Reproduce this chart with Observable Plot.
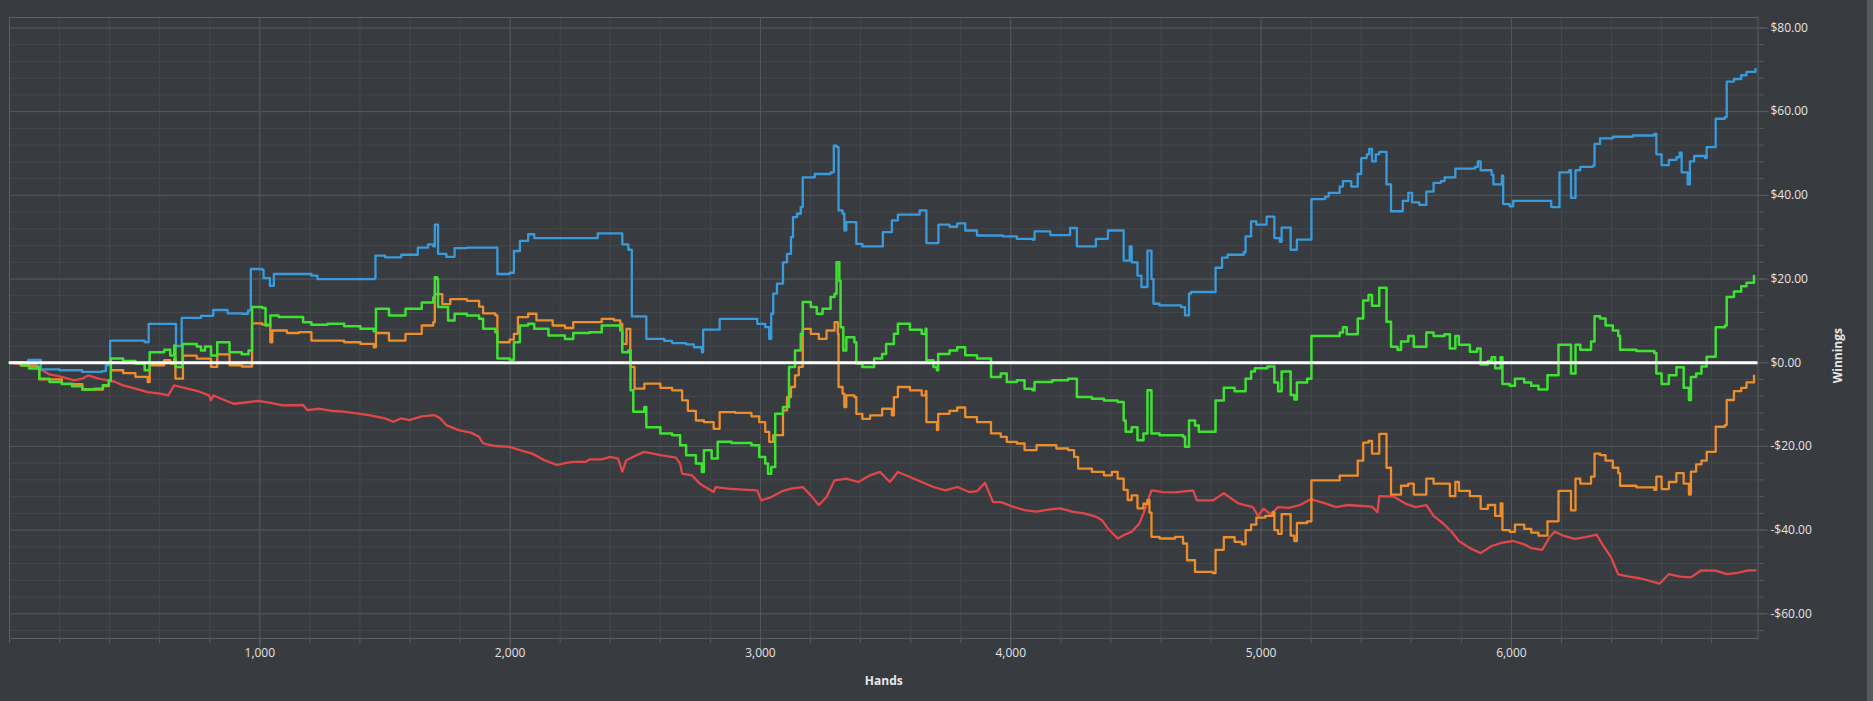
<!DOCTYPE html>
<html>
<head>
<meta charset="utf-8">
<script src="https://cdn.jsdelivr.net/npm/d3@7"></script>
<script src="https://cdn.jsdelivr.net/npm/@observablehq/plot@0.6"></script>
<style>
  html, body { margin: 0; padding: 0; background: #383b3f; overflow: hidden; }
  #chart { position: absolute; left: 0; top: 0; }
  #strip { position: absolute; right: 0; top: 0; width: 6px; height: 701px; background: #56595d; }
</style>
</head>
<body>
<div id="chart"></div>
<div id="strip"></div>
<script>
// Tick values
const xTicks = [1000, 2000, 3000, 4000, 5000, 6000];
const yTicks = [-60, -40, -20, 0, 20, 40, 60, 80];
const xMinor = d3.range(0, 7000, 200);
const yMinor = d3.range(-64, 84, 4);

// Series: [hands, winnings $]
const blue = [[0,0],[75,0.7],[125,-1.6],[200,-1.8],[290,-2.2],[370,-2.0],[385,-0.6],[402,5.3],[540,4.9],[556,9.3],[663,9.3],[665,4.0],[688,10.7],[765,11.2],[814,12.6],[840,12.6],[871,11.8],[928,11.7],[953,12.5],[964,22.4],[1010,22.2],[1015,20.2],[1040,18.4],[1056,21.2],[1206,20.8],[1230,20.0],[1459,20.2],[1462,25.6],[1500,25.2],[1565,25.8],[1631,27.5],[1672,28.3],[1693,27.8],[1699,33.0],[1710,33.0],[1712,26.0],[1745,25.3],[1778,27.4],[1827,27.5],[1949,21.2],[1998,21.5],[2015,26.7],[2039,29.1],[2072,30.7],[2096,29.8],[2350,30.9],[2448,28.3],[2472,27.0],
[2486,11.1],[2544,5.7],[2616,5.2],[2647,4.7],[2703,4.4],[2734,3.7],[2766,2.5],[2771,7.9],[2837,10.5],[2987,9.3],[3019,8.5],[3035,5.7],[3043,11.7],[3051,16.5],[3066,18.9],[3090,24],[3106,26],[3122,30],[3130,34.8],[3146,35.6],[3161,37.2],[3169,44.3],[3217,45.1],[3280,45.5],[3293,51.9],[3304,51.5],[3312,36.4],[3328,35.6],[3335,31.6],[3343,33.6],[3383,28.4],[3407,27.8],[3489,31.2],[3525,34],[3549,35.4],[3636,36.4],[3663,28.6],[3711,33],[3755,32.5],[3786,33.3],[3818,31.6],[3865,30.4],[3968,30.2],[4024,29.6],[4087,29.4],[4095,31.4],[4158,30.5],[4237,32.2],[4264,27.8],[4340,29.6],[4388,31.6],[4451,24.4],[4475,27.8],[4483,24],[4506,20.8],[4522,18.1],[4546,26.8],[4562,20],[4570,14.1],[4594,13.7],[4680,13.3],[4696,11.3],[4712,16.5],[4720,16.9],
[4818,22.7],[4844,25.1],[4866,25.8],[4931,26.4],[4938,30.2],[4960,33.8],[4981,33],[5022,34.9],[5053,29.8],[5075,28.9],[5082,32.3],[5118,27],[5143,29.4],[5201,39.1],[5256,39.7],[5270,40.6],[5314,42.1],[5327,43.4],[5360,42.1],[5386,45.1],[5400,48.9],[5422,49.8],[5432,51.1],[5443,48.1],[5458,49.8],[5472,50.4],[5501,42.6],[5519,36.2],[5566,38.7],[5588,40.6],[5603,38.3],[5632,37.7],[5660,40.9],[5689,43],[5718,43.4],[5733,44.3],[5776,46.4],[5855,46.8],[5866,48.1],[5877,46],[5921,44.9],[5928,42.6],[5962,44.7],[5967,37.9],[5993,37.4],[6007,38.7],[6159,37.2],[6192,45.5],[6231,46],[6238,39.4],[6256,46],[6275,46.8],[6325,47.1],[6332,52.3],[6354,53.6],[6405,54],[6485,54.3],[6571,54.7],[6579,49.8],[6600,47.2],[6629,48.5],[6659,49.1],[6672,50.2],[6680,45.5],[6704,42.6],[6713,48.1],[6730,49.4],[6773,48.9],[6780,51.5],[6816,58.3],[6853,58.7],[6860,67.2],[6889,67.8],[6918,68.7],[6939,69.5],[6975,70.2]];

const green = [[0,0],[46,-0.6],[78,-1.4],[111,-1],[119,-3.8],[160,-4.6],[209,-5],[250,-5.6],[291,-6.4],[340,-6.2],[373,-5.4],[397,-4.2],[405,1],[454,0.4],[503,-0.2],[540,-1.8],[560,2.5],[618,3.1],[642,1.7],[658,4.1],[663,-1],[691,4.5],[748,3.9],[765,2.9],[781,3.9],[805,1.7],[830,4.9],[879,2.5],[928,2],[955,2.9],[969,13.3],[1010,13.1],[1023,8.9],[1042,11.3],[1075,10.9],[1140,10.9],[1173,9.7],[1206,9.1],[1271,9.3],[1337,8.7],[1402,8.1],[1455,7.5],[1464,12.9],[1516,11.3],[1582,12.9],[1647,14.4],[1693,15.6],[1699,20.4],[1709,20],[1712,13.3],[1752,10.1],[1778,11.7],[1827,11.3],[1876,10.5],[1892,8.1],[1941,7.3],[1949,1],[1998,0.7],[2015,4.9],[2039,8.9],[2072,9.3],[2096,8.1],[2153,6.5],[2219,5.7],[2252,7.1],[2317,7.3],[2366,8.9],[2415,8.9],[2440,7.7],[2448,2.5],[2472,2.9],
[2481,-6.6],[2492,-11.7],[2536,-10.6],[2544,-15.4],[2600,-16.9],[2647,-17.3],[2679,-19.7],[2703,-22.1],[2742,-24.1],[2766,-26.1],[2774,-20.9],[2805,-22.9],[2829,-18.9],[2884,-19.2],[2964,-19.7],[2995,-22.5],[3019,-24.1],[3030,-26.5],[3043,-24.9],[3059,-12.2],[3090,-10.6],[3114,-1],[3138,2.9],[3161,6.9],[3169,14.5],[3201,13.3],[3225,11.7],[3248,12.9],[3280,15.7],[3296,16.5],[3304,24],[3315,19.6],[3320,8.5],[3331,2.9],[3343,6.1],[3375,4.9],[3383,-0.2],[3407,-1],[3454,1],[3486,2.1],[3502,4.5],[3533,6.9],[3549,9.3],[3597,7.9],[3644,6.9],[3660,8.1],[3663,0.6],[3691,-1],[3705,-1.8],[3710,2.1],[3755,2.9],[3786,3.7],[3818,1.8],[3865,1],[3921,-3.4],[3960,-2.6],[3984,-4.6],[4024,-4.2],[4055,-6.2],[4087,-6.6],[4095,-4.6],[4166,-4.2],[4229,-3.8],[4264,-8.2],[4324,-8.6],[4372,-9],[4427,-9.4],[4451,-13.8],[4459,-16.5],[4483,-15.4],[4506,-18.5],[4530,-16.9],[4546,-6.6],[4562,-16.9],[4594,-17.3],[4688,-17.7],[4696,-20.1],[4712,-13.8],[4736,-15],[4751,-16.5],
[4818,-9],[4851,-6],[4894,-6.8],[4938,-3.8],[4960,-2.1],[4975,-1.3],[5025,-0.9],[5053,-4.7],[5068,-6.8],[5082,-2.1],[5118,-7.7],[5133,-8.8],[5143,-4.7],[5184,-3.8],[5201,6.4],[5314,7.2],[5327,8.5],[5342,6.8],[5386,10.6],[5408,14.9],[5429,16.2],[5443,13.6],[5472,17.9],[5501,9.8],[5519,3.8],[5545,3.1],[5559,5.1],[5588,6.4],[5610,3.8],[5660,7.2],[5689,6.4],[5733,6.8],[5754,3.4],[5776,6.4],[5790,4.3],[5834,2.6],[5863,3.4],[5877,-0.4],[5906,0.4],[5921,1.3],[5935,-1.3],[5957,1.3],[5964,-5.1],[5993,-5.5],[6014,-3.8],[6051,-4.7],[6079,-5.5],[6108,-6.4],[6144,-3],[6188,4.3],[6238,-2.6],[6256,4.3],[6275,3.1],[6318,5.1],[6332,11.1],[6354,10.6],[6376,8.9],[6405,7.7],[6427,6.4],[6434,3.1],[6499,2.8],[6571,2.3],[6579,-2.6],[6600,-5.1],[6629,-3],[6659,-1.1],[6688,-6],[6709,-8.9],[6717,-3.4],[6738,-2.6],[6759,-0.9],[6780,1.4],[6816,8.5],[6853,8.9],[6860,15.7],[6889,17],[6918,18.3],[6939,19.1],[6969,20.7]];

const orange = [[0,0],[46,-0.7],[111,-1.2],[119,-4],[209,-5.1],[291,-6.4],[373,-5.6],[397,-4.4],[405,-1.8],[454,-2.5],[503,-3.4],[552,-4.6],[560,-0.6],[618,0.6],[642,-0.2],[658,1],[663,-3.8],[693,1.7],[748,1],[805,-1],[830,2],[879,-0.6],[928,-0.9],[969,9.4],[1010,9.1],[1042,4.9],[1050,7.7],[1108,7.1],[1157,7.3],[1206,5.3],[1337,4.9],[1402,4.5],[1455,3.7],[1464,7.1],[1516,5.3],[1582,6.9],[1647,8.9],[1693,9.7],[1699,16.4],[1729,14],[1761,15.2],[1827,14.8],[1876,13.4],[1892,11.8],[1941,11.3],[1949,4.9],[1998,5.5],[2015,6.9],[2031,10.9],[2072,11.7],[2105,10.1],[2170,8.9],[2219,8.3],[2252,9.7],[2317,9.7],[2366,10.5],[2415,10.1],[2440,9.3],[2448,4.5],[2465,8.1],[2480,-1],[2497,-6.2],[2536,-5],[2600,-6],[2647,-6.6],[2687,-9],[2710,-11.5],[2742,-13.8],[2774,-14.2],[2813,-15.8],[2837,-11.8],[2900,-12],[2964,-12.8],[2995,-14.2],[3019,-16.5],[3035,-18.9],[3051,-17.3],[3090,-11.4],[3106,-8.2],[3122,-5.8],[3138,-3],[3153,-1],[3169,8.1],[3201,6.9],[3233,5.7],[3264,7.7],[3296,9.7],[3309,6.9],[3312,-5.8],[3328,-7.4],[3335,-10.6],[3343,-7.8],[3375,-8.2],[3383,-12.2],[3407,-13.4],[3438,-12.6],[3486,-11],[3525,-12.6],[3533,-8.2],[3549,-5.8],[3597,-6.6],[3644,-7.8],[3660,-6.8],[3663,-14.2],[3705,-16.1],[3710,-12.2],[3755,-11.5],[3786,-10.7],[3818,-13],[3865,-14.2],[3921,-16.9],[3960,-17.7],[3984,-18.9],[4024,-19.3],[4055,-20.9],[4103,-19.7],[4182,-20.5],[4229,-20.9],[4253,-22.5],[4269,-25.3],[4324,-26.1],[4372,-26.9],[4404,-26.1],[4427,-27.7],[4451,-30.4],[4467,-32.8],[4483,-31.7],[4506,-34.8],[4530,-33.7],[4546,-32.8],[4554,-35.8],[4562,-41.6],[4594,-42],[4657,-41.6],[4688,-43.2],[4704,-47.2],[4736,-50],[4807,-50.3],[4818,-44.7],[4851,-41.7],[4894,-42.8],[4923,-43.4],[4938,-40],[4960,-38.7],[4981,-37],[5017,-36.6],[5046,-35.7],[5053,-40],[5068,-40.9],[5082,-36.2],[5118,-41.3],[5133,-42.6],[5143,-38.3],[5184,-37.9],[5201,-28.1],[5314,-27],[5386,-23.4],[5408,-19.1],[5429,-18.7],[5443,-21.7],[5472,-17],[5501,-25.1],[5519,-31.5],[5559,-29.4],[5588,-28.9],[5610,-31.5],[5660,-27.7],[5689,-28.9],[5754,-31.9],[5776,-28.5],[5790,-30.6],[5834,-31.9],[5877,-34.9],[5906,-34],[5935,-36.6],[5957,-33.6],[5964,-40],[5993,-40.4],[6014,-38.7],[6051,-39.7],[6079,-40.6],[6108,-41.3],[6144,-37.9],[6188,-30.6],[6238,-35.3],[6256,-27.7],[6275,-28.9],[6318,-27.2],[6332,-21.7],[6354,-22.1],[6376,-23.4],[6405,-25.1],[6427,-26.4],[6434,-29.4],[6499,-29.8],[6571,-30.4],[6579,-27.2],[6600,-30.2],[6629,-28.5],[6659,-26.4],[6688,-28.9],[6709,-31.5],[6717,-26],[6738,-24.3],[6759,-23.4],[6780,-21.3],[6816,-15.3],[6853,-14.9],[6860,-8.9],[6889,-6.8],[6918,-6],[6939,-4.7],[6969,-3.1]];

const red = [[0,0],[62,-0.6],[119,-1.4],[160,-2.8],[209,-3.4],[258,-4.2],[291,-3.8],[315,-3],[356,-3.8],[397,-4.2],[422,-4.6],[454,-5.4],[503,-6.2],[552,-7],[601,-7.4],[634,-7.8],[658,-5.4],[699,-6],[748,-6.7],[797,-7.8],[805,-9],[814,-7.8],[846,-8.6],[895,-9.8],[944,-9.5],[993,-9.1],[1042,-9.6],[1092,-10.2],[1173,-10.1],[1190,-11.3],[1239,-11],[1288,-11.5],[1337,-11.7],[1386,-12.1],[1435,-12.5],[1500,-13.3],[1533,-14.1],[1565,-13.3],[1598,-13.7],[1647,-12.8],[1696,-12.5],[1721,-13.3],[1745,-14.9],[1794,-16.1],[1843,-16.7],[1876,-17.7],[1892,-19.3],[1941,-19.9],[1998,-20.1],[2039,-20.9],[2088,-21.7],[2137,-23.3],[2186,-24.4],[2219,-24],[2252,-23.7],[2301,-23.7],[2317,-23.1],[2366,-23.1],[2399,-22.5],[2431,-22.9],[2448,-26],[2464,-23.3],[2505,-22.1],[2536,-21.3],[2600,-22.1],[2663,-22.7],[2679,-24.1],[2687,-26.5],[2726,-26.9],[2758,-28.9],[2813,-30.9],[2821,-29.7],[2869,-30.1],[2932,-30.3],[2987,-30.5],[3003,-32.9],[3043,-32.1],[3090,-30.6],[3122,-30.1],[3169,-29.7],[3201,-31.7],[3233,-34],[3264,-32.1],[3296,-28.1],[3343,-27.7],[3391,-28.5],[3438,-26.9],[3478,-26.1],[3517,-28.5],[3549,-26.1],[3597,-27.3],[3644,-28.5],[3691,-29.7],[3739,-30.5],[3786,-29.7],[3834,-30.9],[3865,-30.7],[3897,-28.7],[3929,-33.3],[3960,-33.3],[4008,-34.4],[4055,-35.2],[4103,-35.6],[4150,-35.1],[4198,-34.8],[4245,-35.6],[4293,-36],[4340,-36.8],[4364,-37.6],[4388,-39.6],[4427,-42],[4451,-41.2],[4483,-40.4],[4514,-38.4],[4530,-36],[4546,-33.3],[4562,-30.5],[4609,-30.9],[4657,-31],[4728,-30.5],[4744,-32.9],[4808,-32.9],[4851,-31.2],[4909,-33.6],[4967,-34.5],[4988,-36.6],[5010,-34.9],[5039,-36.2],[5068,-34.5],[5111,-34.7],[5155,-34],[5198,-32.6],[5256,-33.6],[5299,-34.5],[5342,-34],[5443,-34.4],[5465,-35.7],[5472,-31.9],[5530,-32],[5574,-33.6],[5617,-34.5],[5660,-34],[5689,-36.6],[5725,-38.3],[5761,-40.4],[5790,-42.6],[5834,-44.3],[5877,-45.5],[5921,-43.8],[5964,-43],[6007,-42.6],[6051,-43.4],[6079,-44.3],[6123,-44.7],[6152,-41.7],[6173,-40.4],[6210,-41.4],[6253,-42.1],[6296,-41.7],[6340,-41.1],[6368,-43.8],[6397,-46.4],[6427,-50.6],[6470,-51.1],[6513,-51.5],[6556,-52.2],[6592,-52.8],[6629,-50.5],[6672,-51.1],[6717,-51.3],[6759,-49.6],[6816,-49.7],[6860,-50.5],[6903,-50.2],[6947,-49.6],[6975,-49.6]];

const colors = { blue: "#3a9bdc", green: "#3fe232", orange: "#ec8e2c", red: "#e0474b" };
const gridMinor = "#45484c", gridMajor = "#54575b", tickColor = "#5a5d61";
const money = v => (v < 0 ? "-$" : "$") + Math.abs(v).toFixed(2);
const hx = d => d[0], vy = d => d[1];

const chart = Plot.plot({
  width: 1867,
  height: 701,
  marginLeft: 9,
  marginTop: 17,
  marginRight: 109.5,
  marginBottom: 63,
  style: { background: "#383b3f", color: "#e4e4e4", fontFamily: "'Open Sans', 'Noto Sans', sans-serif", fontSize: "12px" },
  x: { domain: [0, 6985] },
  y: { domain: [-65.9, 82.5] },
  marks: [
    Plot.gridX(xMinor, { stroke: gridMinor, strokeOpacity: 1 }),
    Plot.gridY(yMinor, { stroke: gridMinor, strokeOpacity: 1 }),
    Plot.gridX(xTicks, { stroke: gridMajor, strokeOpacity: 1 }),
    Plot.gridY(yTicks, { stroke: gridMajor, strokeOpacity: 1 }),
    Plot.axisX(xMinor, { tickSize: 5, stroke: tickColor, tickFormat: () => "", label: null }),
    Plot.axisY(yMinor, { anchor: "right", tickSize: 5, stroke: tickColor, tickFormat: () => "", label: null }),
    Plot.axisX(xTicks, { tickSize: 10, tickPadding: 0, stroke: tickColor, tickFormat: d3.format(","), label: null }),
    Plot.axisY(yTicks, { anchor: "right", tickSize: 10, tickPadding: 2.5, stroke: tickColor, tickFormat: money, label: null }),
    Plot.frame({ stroke: "#5c5f63" }),
    Plot.line(red, { x: hx, y: vy, stroke: colors.red, strokeWidth: 2.3 }),
    Plot.line(blue, { x: hx, y: vy, curve: "step-after", stroke: colors.blue, strokeWidth: 2.3 }),
    Plot.line(orange, { x: hx, y: vy, curve: "step-after", stroke: colors.orange, strokeWidth: 2.3 }),
    Plot.line(green, { x: hx, y: vy, curve: "step-after", stroke: colors.green, strokeWidth: 2.5 }),
    Plot.ruleY([0], { stroke: "#ffffff", strokeWidth: 3 }),
    Plot.text(["Winnings"], { frameAnchor: "right", dx: 80, rotate: -90, fontWeight: "bold", fill: "#e8e8e8", fontSize: 12 }),
    Plot.text(["Hands"], { frameAnchor: "bottom", dy: 46, fontWeight: "bold", fill: "#e8e8e8", fontSize: 12 })
  ]
});
document.getElementById("chart").appendChild(chart);
</script>
</body>
</html>
